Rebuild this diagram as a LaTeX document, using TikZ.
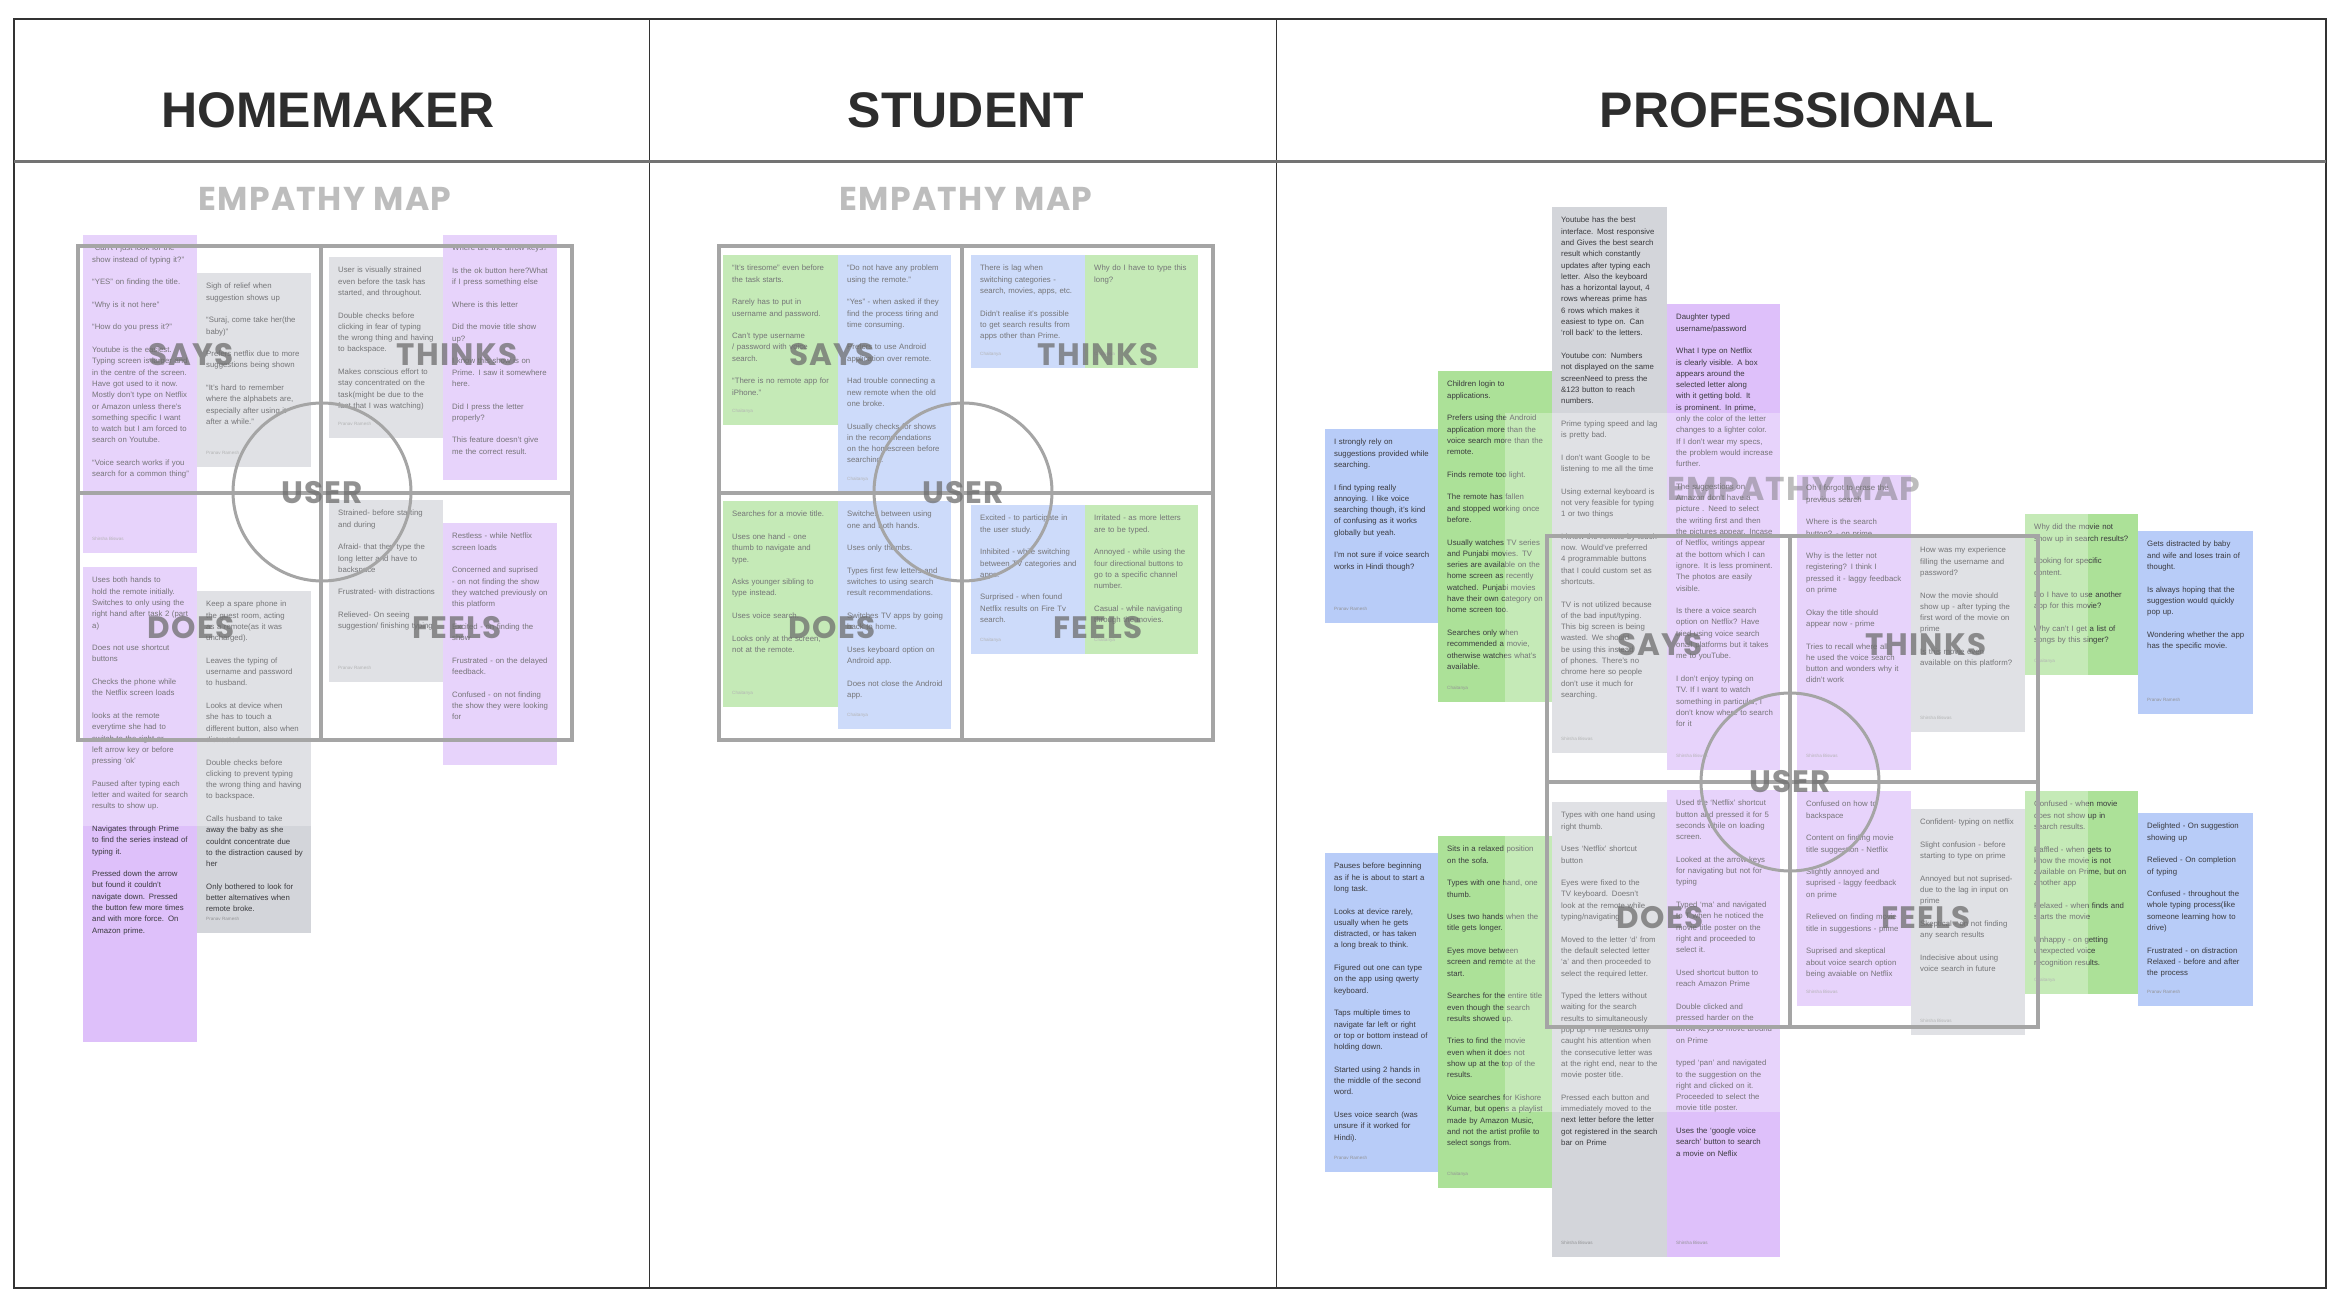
\documentclass[tikz,border=0pt]{standalone}
\usepackage{fontspec}
\setmainfont{Liberation Sans}
\newfontfamily\quadfont{Poppins}[LetterSpace=4]
\hyphenpenalty=10000
\exhyphenpenalty=10000

\definecolor{notepurple}{RGB}{222,192,250}
\definecolor{notegray}{RGB}{211,213,218}
\definecolor{notegreen}{RGB}{172,225,152}
\definecolor{noteblue}{RGB}{184,204,248}
\definecolor{inkgray}{RGB}{58,58,62}
\definecolor{titleink}{RGB}{45,45,45}
\definecolor{framegray}{RGB}{165,165,165}
\definecolor{labelgray}{RGB}{110,110,110}

% blank line between two points on a sticky note
\newcommand{\np}{\par\vspace{11.3pt}}
% sticky note: name, colour, left, top, right, bottom, text, signature
\newcommand{\postit}[8]{%
  \fill[#2] (#3,#4) rectangle (#5,#6);
  \node[notetext] (#1) at ({#3+9},{#4+10}) {#7};
  \if\relax\detokenize{#8}\relax\else
    \node[signtext] (#1-sig) at ({#3+9},{#6-14}) {#8};
  \fi}

\begin{document}
\begin{tikzpicture}[x=1pt, y=-1pt,
  notetext/.style={anchor=north west, inner sep=0pt, text width=97pt, align=left, text=inkgray, font=\fontsize{7.8}{11.3}\selectfont},
  signtext/.style={anchor=west, inner sep=0pt, text=inkgray!55, font=\fontsize{4.6}{5}\selectfont},
  maplabel/.style={inner sep=0pt, text=labelgray, opacity=0.75, font=\quadfont\bfseries\fontsize{31}{31}\selectfont},
  maptitle/.style={inner sep=0pt, text=labelgray, opacity=0.45, font=\quadfont\bfseries\fontsize{33}{33}\selectfont},
  persona/.style={inner sep=0pt, text=titleink, font=\bfseries\fontsize{50}{50}\selectfont},
  mapline/.style={draw=framegray, line width=3.3pt},
  haze/.style={fill=white, opacity=0.3}]

  \useasboundingbox (0,0) rectangle (2340,1300);
  \fill[white] (0,0) rectangle (2340,1300);

  % Board: frame, columns and header
  \draw[black!80, line width=1.2pt] (14,19) rectangle (2326,1288);
  \draw[black!80, line width=0.9pt] (649,19) -- (649,1288);
  \draw[black!80, line width=0.9pt] (1276,19) -- (1276,1288);
  \draw[black!55, line width=3pt] (14,162) -- (2326,162);
  \node[persona] (hm-title) at (328,110) {HOMEMAKER};
  \node[persona] (st-title) at (966,110) {STUDENT};
  \node[persona] (pr-title) at (1797,110) {PROFESSIONAL};

  % Notes 1: Homemaker
  \postit{hm-says-a}{notepurple}{83}{235}{197}{553}{``Can't I just look for the show instead of typing it?''\np ``YES'' on finding the title.\np ``Why is it not here''\np ``How do you press it?''\np Youtube is the easiest. Typing screen is larger and in the centre of the screen. Have got used to it now. Mostly don't type on Netflix or Amazon unless there's something specific I want to watch but I am forced to search on Youtube.\np ``Voice search works if you search for a common thing''}{Shirsha Biswas}
  \postit{hm-says-b}{notegray}{197}{273}{311}{467}{Sigh of relief when suggestion shows up\np ``Suraj, come take her(the baby)''\np Prefers netflix due to more suggestions being shown\np ``It's hard to remember where the alphabets are, especially after using it after a while.''}{Pranav Ramesh}
  \postit{hm-thinks-a}{notegray}{329}{257}{443}{438}{User is visually strained even before the task has started, and throughout.\np Double checks before clicking in fear of typing the wrong thing and having to backspace.\np Makes conscious effort to stay concentrated on the task(might be due to the fact that I was watching)}{Pranav Ramesh}
  \postit{hm-thinks-b}{notepurple}{443}{235}{557}{480}{Where are the arrow keys?\np Is the ok button here?What if I press something else\np Where is this letter\np Did the movie title show up?\np I know this show is on Prime. I saw it somewhere here.\np Did I press the letter properly?\np This feature doesn't give me the correct result.}{}
  \postit{hm-feels-a}{notegray}{329}{500}{443}{682}{Strained- before starting and during\np Afraid- that they type the long letter and have to backspace\np Frustrated- with distractions\np Relieved- On seeing suggestion/ finishing typing}{Pranav Ramesh}
  \postit{hm-feels-b}{notepurple}{443}{523}{557}{765}{Restless - while Netflix screen loads\np Concerned and suprised - on not finding the show they watched previously on this platform\np Excited - on finding the show\np Frustrated - on the delayed feedback.\np Confused - on not finding the show they were looking for}{}
  \postit{hm-does-a}{notepurple}{83}{567}{197}{1042}{Uses both hands to hold the remote initially. Switches to only using the right hand after task 2 (part a)\np Does not use shortcut buttons\np Checks the phone while the Netflix screen loads\np looks at the remote everytime she had to switch to the right or left arrow key or before pressing `ok'\np Paused after typing each letter and waited for search results to show up.\np Navigates through Prime to find the series instead of typing it.\np Pressed down the arrow but found it couldn't navigate down. Pressed the button few more times and with more force. On Amazon prime.}{}
  \postit{hm-does-b}{notegray}{197}{591}{311}{933}{Keep a spare phone in the guest room, acting as a remote(as it was uncharged).\np Leaves the typing of username and password to husband.\np Looks at device when she has to touch a different button, also when distracted.\np Double checks before clicking to prevent typing the wrong thing and having to backspace.\np Calls husband to take away the baby as she couldnt concentrate due to the distraction caused by her\np Only bothered to look for better alternatives when remote broke.}{Pranav Ramesh}

  % Notes 2: Student
  \postit{st-says-a}{notegreen}{723}{255}{838}{425}{``It's tiresome'' even before the task starts.\np Rarely has to put in username and password.\np Can't type username / password with voice search.\np ``There is no remote app for iPhone.''}{Chaitanya}
  \postit{st-says-b}{noteblue}{838}{255}{951}{493}{``Do not have any problem using the remote.''\np ``Yes'' - when asked if they find the process tiring and time consuming.\np Prefers to use Android application over remote.\np Had trouble connecting a new remote when the old one broke.\np Usually checks for shows in the recommendations on the homescreen before searching.}{Chaitanya}
  \postit{st-thinks-a}{noteblue}{971}{255}{1085}{368}{There is lag when switching categories - search, movies, apps, etc.\np Didn't realise it's possible to get search results from apps other than Prime.}{Chaitanya}
  \postit{st-thinks-b}{notegreen}{1085}{255}{1198}{368}{Why do I have to type this long?}{Chaitanya}
  \postit{st-does-a}{notegreen}{723}{501}{838}{707}{Searches for a movie title.\np Uses one hand - one thumb to navigate and type.\np Asks younger sibling to type instead.\np Uses voice search.\np Looks only at the screen, not at the remote.}{Chaitanya}
  \postit{st-does-b}{noteblue}{838}{501}{951}{729}{Switches between using one and both hands.\np Uses only thumbs.\np Types first few letters and switches to using search result recommendations.\np Switches TV apps by going back to home.\np Uses keyboard option on Android app.\np Does not close the Android app.}{Chaitanya}
  \postit{st-feels-a}{noteblue}{971}{505}{1085}{654}{Excited - to participate in the user study.\np Inhibited - while switching between TV categories and apps.\np Surprised - when found Netflix results on Fire Tv search.}{Chaitanya}
  \postit{st-feels-b}{notegreen}{1085}{505}{1198}{654}{Irritated - as more letters are to be typed.\np Annoyed - while using the four directional buttons to go to a specific channel number.\np Casual - while navigating through the movies.}{Chaitanya}

  % Notes 3: Professional
  \postit{pr-says-a}{noteblue}{1325}{429}{1438}{623}{I strongly rely on suggestions provided while searching.\np I find typing really annoying. I like voice searching though, it's kind of confusing as it works globally but yeah.\np I'm not sure if voice search works in Hindi though?}{Pranav Ramesh}
  \postit{pr-says-b}{notegreen}{1438}{371}{1552}{702}{Children login to applications.\np Prefers using the Android application more than the voice search more than the remote.\np Finds remote too light.\np The remote has fallen and stopped working once before.\np Usually watches TV series and Punjabi movies. TV series are available on the home screen as recently watched. Punjabi movies have their own category on home screen too.\np Searches only when recommended a movie, otherwise watches what's available.}{Chaitanya}
  \postit{pr-says-c}{notegray}{1552}{207}{1667}{753}{Youtube has the best interface. Most responsive and Gives the best search result which constantly updates after typing each letter. Also the keyboard has a horizontal layout, 4 rows whereas prime has 6 rows which makes it easiest to type on. Can `roll back' to the letters.\np Youtube con: Numbers not displayed on the same screenNeed to press the \&123 button to reach numbers.\np Prime typing speed and lag is pretty bad.\np I don't want Google to be listening to me all the time\np Using external keyboard is not very feasible for typing 1 or two things\np I know the remote by touch now. Would've preferred 4 programmable buttons that I could custom set as shortcuts.\np TV is not utilized because of the bad input/typing. This big screen is being wasted. We should be using this instead of phones. There's no chrome here so people don't use it much for searching.}{Shirsha Biswas}
  \postit{pr-says-d}{notepurple}{1667}{304}{1780}{770}{Daughter typed username/password\np What I type on Netflix is clearly visible. A box appears around the selected letter along with it getting bold. It is prominent. In prime, only the color of the letter changes to a lighter color. If I don't wear my specs, the problem would increase further.\np The suggestions on Amazon don't have a picture . Need to select the writing first and then the pictures appear. Incase of Netflix, writings appear at the bottom which I can ignore. It is less prominent. The photos are easily visible.\np Is there a voice search option on Netflix? Have tried using voice search onall platforms but it takes me to youTube.\np I don't enjoy typing on TV. If I want to watch something in particular, I don't know where to search for it}{Shirsha Biswas}
  \postit{pr-thinks-a}{notepurple}{1797}{475}{1911}{770}{Oh I forgot to erase the previous search\np Where is the search button? - on prime\np Why is the letter not registering? I think I pressed it - laggy feedback on prime\np Okay the title should appear now - prime\np Tries to recall where all he used the voice search button and wonders why it didn't work}{Shirsha Biswas}
  \postit{pr-thinks-b}{notegray}{1911}{537}{2025}{732}{How was my experience filling the username and password?\np Now the movie should show up - after typing the first word of the movie on prime\np Is this movie even available on this platform?}{Shirsha Biswas}
  \postit{pr-thinks-c}{notegreen}{2025}{514}{2138}{675}{Why did the movie not show up in search results?\np Looking for specific content.\np Do I have to use another app for this movie?\np Why can't I get a list of songs by this singer?}{Chaitanya}
  \postit{pr-thinks-d}{noteblue}{2138}{531}{2253}{714}{Gets distracted by baby and wife and loses train of thought.\np Is always hoping that the suggestion would quickly pop up.\np Wondering whether the app has the specific movie.}{Pranav Ramesh}
  \postit{pr-does-a}{noteblue}{1325}{853}{1438}{1172}{Pauses before beginning as if he is about to start a long task.\np Looks at device rarely, usually when he gets distracted, or has taken a long break to think.\np Figured out one can type on the app using qwerty keyboard.\np Taps multiple times to navigate far left or right or top or bottom instead of holding down.\np Started using 2 hands in the middle of the second word.\np Uses voice search (was unsure if it worked for Hindi).}{Pranav Ramesh}
  \postit{pr-does-b}{notegreen}{1438}{836}{1552}{1188}{Sits in a relaxed position on the sofa.\np Types with one hand, one thumb.\np Uses two hands when the title gets longer.\np Eyes move between screen and remote at the start.\np Searches for the entire title even though the search results showed up.\np Tries to find the movie even when it does not show up at the top of the results.\np Voice searches for Kishore Kumar, but opens a playlist made by Amazon Music, and not the artist profile to select songs from.}{Chaitanya}
  \postit{pr-does-c}{notegray}{1552}{802}{1667}{1257}{Types with one hand using right thumb.\np Uses `Netflix' shortcut button\np Eyes were fixed to the TV keyboard. Doesn't look at the remote while typing/navigating\np Moved to the letter `d' from the default selected letter `a' and then proceeded to select the required letter.\np Typed the letters without waiting for the search results to simultaneously pop up - The results only caught his attention when the consecutive letter was at the right end, near to the movie poster title.\np Pressed each button and immediately moved to the next letter before the letter got registered in the search bar on Prime}{Shirsha Biswas}
  \postit{pr-does-d}{notepurple}{1667}{790}{1780}{1257}{Used the `Netflix' shortcut button and pressed it for 5 seconds while on loading screen.\np Looked at the arrow keys for navigating but not for typing\np Typed `ma' and navigated to T when he noticed the movie title poster on the right and proceeded to select it.\np Used shortcut button to reach Amazon Prime\np Double clicked and pressed harder on the arrow keys to move around on Prime\np typed `pan' and navigated to the suggestion on the right and clicked on it. Proceeded to select the movie title poster.\np Uses the `google voice search' button to search a movie on Neflix}{Shirsha Biswas}
  \postit{pr-feels-a}{notepurple}{1797}{791}{1911}{1006}{Confused on how to backspace\np Content on finding movie title suggestion - Netflix\np Slightly annoyed and suprised - laggy feedback on prime\np Relieved on finding movie title in suggestions - prime\np Suprised and skeptical about voice search option being avaiable on Netflix}{Shirsha Biswas}
  \postit{pr-feels-b}{notegray}{1911}{809}{2025}{1035}{Confident- typing on netflix\np Slight confusion - before starting to type on prime\np Annoyed but not suprised- due to the lag in input on prime\np Skeptical - on not finding any search results\np Indecisive about using voice search in future}{Shirsha Biswas}
  \postit{pr-feels-c}{notegreen}{2025}{791}{2138}{994}{Confused - when movie does not show up in search results.\np Baffled - when gets to know the movie is not available on Prime, but on another app\np Relaxed - when finds and starts the movie\np Unhappy - on getting unexpected voice recognition results.}{Chaitanya}
  \postit{pr-feels-d}{noteblue}{2138}{813}{2253}{1006}{Delighted - On suggestion showing up\np Relieved - On completion of typing\np Confused - throughout the whole typing process(like someone learning how to drive)\np Frustrated - on distraction Relaxed - before and after the process}{Pranav Ramesh}

  % empathy map templates lie over the notes
  \fill[haze] (36,166) rectangle (622,826);
  \fill[haze] (677,166) rectangle (1263,826);
  \fill[haze] (1505,413) rectangle (2088,1112);

  % Panel 1: Homemaker map
  \begin{scope}[shift={(78,246)}]
    \draw[mapline] (0,0) rectangle (494,494);
    \draw[mapline] (243,0) -- (243,494);
    \draw[mapline] (0,247) -- (494,247);
    \draw[mapline, line width=3pt] (244,246) circle[radius=89];
    \node[maptitle] (hm-map) at (247,-47) {EMPATHY MAP};
    \node[maplabel] (hm-says) at (113,109) {SAYS};
    \node[maplabel] (hm-thinks) at (379,109) {THINKS};
    \node[maplabel] (hm-user) at (244,247) {USER};
    \node[maplabel] (hm-does) at (113,382) {DOES};
    \node[maplabel] (hm-feels) at (379,382) {FEELS};
  \end{scope}

  % Panel 2: Student map
  \begin{scope}[shift={(719,246)}]
    \draw[mapline] (0,0) rectangle (494,494);
    \draw[mapline] (243,0) -- (243,494);
    \draw[mapline] (0,247) -- (494,247);
    \draw[mapline, line width=3pt] (244,246) circle[radius=89];
    \node[maptitle] (st-map) at (247,-47) {EMPATHY MAP};
    \node[maplabel] (st-says) at (113,109) {SAYS};
    \node[maplabel] (st-thinks) at (379,109) {THINKS};
    \node[maplabel] (st-user) at (244,247) {USER};
    \node[maplabel] (st-does) at (113,382) {DOES};
    \node[maplabel] (st-feels) at (379,382) {FEELS};
  \end{scope}

  % Panel 3: Professional map
  \begin{scope}[shift={(1547,536)}]
    \draw[mapline] (0,0) rectangle (491,491);
    \draw[mapline] (243,0) -- (243,491);
    \draw[mapline] (0,246) -- (491,246);
    \draw[mapline, line width=3pt] (243,246) circle[radius=89];
    \node[maptitle] (pr-map) at (247,-47) {EMPATHY MAP};
    \node[maplabel] (pr-says) at (113,109) {SAYS};
    \node[maplabel] (pr-thinks) at (379,109) {THINKS};
    \node[maplabel] (pr-user) at (243,246) {USER};
    \node[maplabel] (pr-does) at (113,382) {DOES};
    \node[maplabel] (pr-feels) at (379,382) {FEELS};
  \end{scope}
\end{tikzpicture}
\end{document}
